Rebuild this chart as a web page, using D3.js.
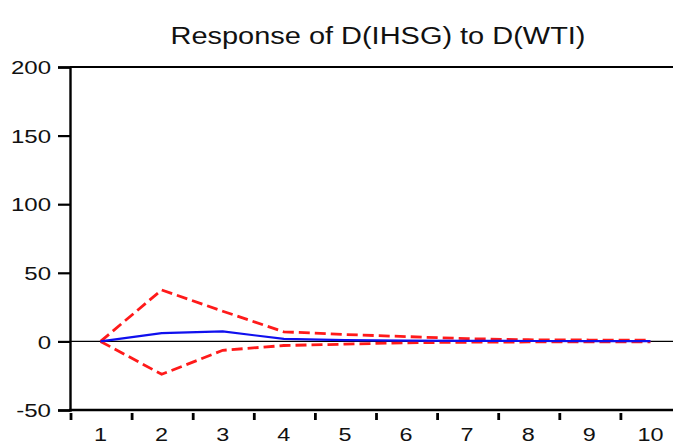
<!DOCTYPE html>
<html>
<head>
<meta charset="utf-8">
<script src="https://cdn.jsdelivr.net/npm/d3@7"></script>
<style>
  body { margin: 0; background: #fff; }
  svg { display: block; }
  text { font-family: "Liberation Sans", Arial, sans-serif; fill: #111; }
</style>
</head>
<body>
<svg id="vis" width="673" height="446"></svg>
<script>
// impulse response data, periods 1..10
const periods = [1, 2, 3, 4, 5, 6, 7, 8, 9, 10];
const response = [0, 6, 7.3, 1.8, 1.0, 0.6, 0.4, 0.3, 0.2, 0.2];
const upperBand = [0, 37.5, 22, 7, 5, 3.5, 2, 1.2, 1, 1];
const lowerBand = [0, -24, -6.5, -3, -2, -1, -0.6, -0.4, -0.3, -0.3];
const yTicks = [-50, 0, 50, 100, 150, 200];

const svg = d3.select('#vis');
const plotLeft = 70, plotTop = 67, plotBottom = 410, plotRight = 681;
const stretch = 1.3; // the original picture is wider than it is tall

const x = d3.scaleBand()
    .domain(periods)
    .range([plotLeft, plotRight]);

const y = d3.scaleLinear()
    .domain([-50, 200])
    .range([plotBottom, plotTop]);

const cx = function (d, i) { return x(periods[i]) + x.bandwidth() / 2; };

// widen a text element horizontally
function widen(sel, k) {
    sel.each(function () {
        const w = this.getComputedTextLength();
        d3.select(this)
            .attr('textLength', w * k)
            .attr('lengthAdjust', 'spacingAndGlyphs');
    });
}

// zero line
svg.append('line')
    .attr('x1', plotLeft).attr('x2', plotRight)
    .attr('y1', y(0)).attr('y2', y(0))
    .attr('stroke', '#000')
    .attr('stroke-width', 1.2);

// frame: top border
svg.append('line')
    .attr('x1', plotLeft).attr('x2', plotRight)
    .attr('y1', plotTop).attr('y2', plotTop)
    .attr('stroke', '#000')
    .attr('stroke-width', 2);

// y axis
const yAxis = svg.append('g')
    .attr('transform', 'translate(' + plotLeft + ',0)')
    .call(d3.axisLeft(y)
        .tickValues(yTicks)
        .tickFormat(function (d) { return String(d); })
        .tickSize(12)
        .tickPadding(7));
yAxis.select('.domain').attr('stroke-width', 2.4).attr('stroke', '#000');
yAxis.selectAll('.tick line').attr('stroke-width', 2.2).attr('stroke', '#000');
yAxis.selectAll('.tick text')
    .style('font-size', '18.5px')
    .attr('fill', '#111')
    .attr('dy', '0.36em')
    .call(widen, stretch);

// x axis line
svg.append('line')
    .attr('x1', plotLeft - 1).attr('x2', plotRight)
    .attr('y1', plotBottom).attr('y2', plotBottom)
    .attr('stroke', '#000')
    .attr('stroke-width', 2.4);

// x ticks at band boundaries, detached below the axis
svg.selectAll('.xtick')
    .data(periods)
    .enter().append('line')
    .attr('class', 'xtick')
    .attr('x1', function (d) { return x(d) + 1; })
    .attr('x2', function (d) { return x(d) + 1; })
    .attr('y1', plotBottom + 3)
    .attr('y2', plotBottom + 10)
    .attr('stroke', '#000')
    .attr('stroke-width', 2.8);

// x labels
svg.selectAll('.xlabel')
    .data(periods)
    .enter().append('text')
    .attr('class', 'xlabel')
    .attr('x', function (d) { return x(d) + x.bandwidth() / 2; })
    .attr('y', 441)
    .attr('text-anchor', 'middle')
    .style('font-size', '18px')
    .text(function (d) { return d; })
    .call(widen, stretch);

const line = d3.line()
    .x(cx)
    .y(function (d) { return y(d); });

// confidence bands
[upperBand, lowerBand].forEach(function (band) {
    svg.append('path')
        .datum(band)
        .attr('d', line)
        .attr('fill', 'none')
        .attr('stroke', '#ff1a1a')
        .attr('stroke-width', 2.8)
        .attr('stroke-dasharray', '11,5');
});

// response
svg.append('path')
    .datum(response)
    .attr('d', line)
    .attr('fill', 'none')
    .attr('stroke', '#1010ee')
    .attr('stroke-width', 2.2);

// title
svg.append('text')
    .attr('x', 378)
    .attr('y', 44)
    .attr('text-anchor', 'middle')
    .style('font-size', '23px')
    .text('Response of D(IHSG) to D(WTI)')
    .attr('textLength', 415)
    .attr('lengthAdjust', 'spacingAndGlyphs');
</script>
</body>
</html>
